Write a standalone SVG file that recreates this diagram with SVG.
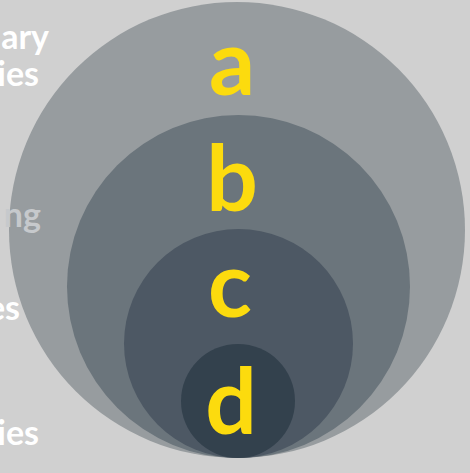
<svg xmlns="http://www.w3.org/2000/svg" width="470" height="473" viewBox="0 0 470 473">
<style>
.side{font-family:Lato,"Open Sans","Liberation Sans",sans-serif;font-weight:bold;font-size:34px;fill:#ffffff;text-anchor:end}
.lbl{font-family:Lato,"Open Sans","Liberation Sans",sans-serif;font-weight:bold;font-size:91px;fill:#fcdb0e;text-anchor:middle}
</style>
<rect width="470" height="473" fill="#d0d0d0"/>
<g id="side-labels">
<text class="side" x="49" y="49">ary</text>
<text class="side" x="39" y="86">ies</text>
<text class="side" x="20" y="320">es</text>
<text class="side" x="39" y="445">ies</text>
</g>
<g id="node-a"><circle cx="237" cy="230" r="228" fill="#979c9f"/><text class="lbl" x="232" y="95">a</text></g>
<g id="node-b"><circle cx="238.5" cy="286.5" r="171.5" fill="#6b757c"/><text class="lbl" x="232" y="211">b</text></g>
<g id="node-c"><circle cx="238.5" cy="343.5" r="114.5" fill="#4d5864"/><text class="lbl" x="230" y="317">c</text></g>
<g id="node-d"><circle cx="238" cy="401" r="57" fill="#33414d"/><text class="lbl" x="231" y="434">d</text></g>
<g id="side-label-over"><text class="side" x="41" y="227" fill="#c6c9cc" style="fill:#c6c9cc">ng</text></g>
<g id="connectors"/>
</svg>
